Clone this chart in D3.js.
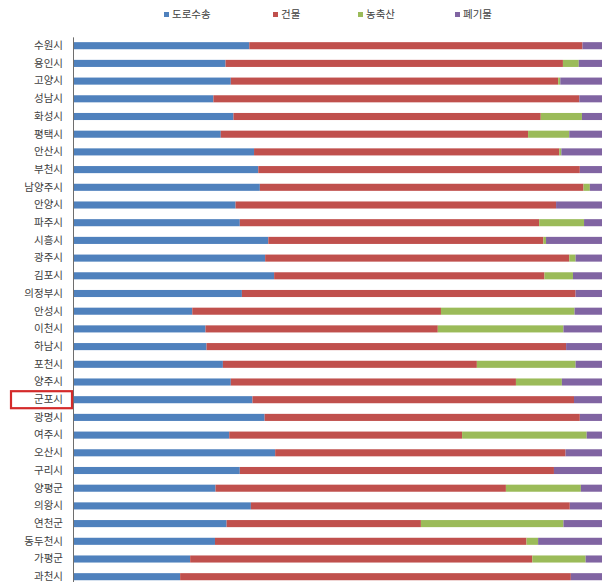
<!DOCTYPE html>
<html>
<head>
<meta charset="utf-8">
<script src="https://cdn.jsdelivr.net/npm/d3@7"></script>
<style>
  html, body { margin: 0; padding: 0; background: #fff; }
  svg { display: block; font-family: "Noto Sans CJK KR", "Noto Sans", sans-serif; }
</style>
</head>
<body>
<svg id="chart" width="608" height="582"></svg>
<script>
// 시군별 온실가스 배출 부문 구성비 (%)
const cities = ["수원시","용인시","고양시","성남시","화성시","평택시","안산시","부천시","남양주시","안양시",
  "파주시","시흥시","광주시","김포시","의정부시","안성시","이천시","하남시","포천시","양주시",
  "군포시","광명시","여주시","오산시","구리시","양평군","의왕시","연천군","동두천시","가평군","과천시"];
const seriesNames = ["도로수송","건물","농축산","폐기물"];
const road     = [33.2,28.7,29.7,26.4,30.2,27.8,34.1,34.9,35.2,30.6,31.4,36.8,36.2,37.9,31.8,22.4,24.9,25.1,28.2,29.7,33.8,36.1,29.4,38.1,31.4,26.8,33.5,28.9,26.7,22.0,20.1];
const building = [63.1,63.9,62.0,69.3,58.2,58.2,57.8,60.9,61.3,60.7,56.7,52.1,57.6,51.2,63.2,47.1,44.0,68.1,48.1,54.0,60.9,59.7,44.1,55.0,59.5,55.0,60.4,36.8,59.0,64.8,74.0];
const agri     = [0,3.0,0.4,0,7.8,7.8,0.4,0,1.2,0,8.5,0.5,1.2,5.4,0,25.3,23.8,0,18.7,8.7,0,0,23.6,0,0,14.2,0,27.0,2.2,10.1,0];
const waste    = [3.7,4.4,7.9,4.3,3.8,6.2,7.7,4.2,2.3,8.7,3.4,10.6,5.0,5.5,5.0,5.2,7.3,6.8,5.0,7.6,5.3,4.2,2.9,6.9,9.1,4.0,6.1,7.3,12.1,3.1,5.9];
const highlighted = "군포시";

const colors = ["#4f81bd","#c0504d","#9bbb59","#8064a2"];

const rows = cities.map((c, i) => ({
  city: c,
  "도로수송": road[i], "건물": building[i], "농축산": agri[i], "폐기물": waste[i]
}));

const svg = d3.select("#chart");
const plot = { left: 74, right: 602, top: 36.85, bottom: 36.85 + 17.7 * cities.length };

const x = d3.scaleLinear().domain([0, 1]).range([plot.left, plot.right]);
const y = d3.scaleBand().domain(cities).range([plot.top, plot.bottom])
  .paddingInner(0.6).paddingOuter(0.3);
const color = d3.scaleOrdinal().domain(seriesNames).range(colors);

const stacked = d3.stack().keys(seriesNames).offset(d3.stackOffsetExpand)(rows);

// stacked bars
svg.append("g").selectAll("g")
  .data(stacked)
  .join("g")
  .attr("fill", d => color(d.key))
  .selectAll("rect")
  .data(d => d)
  .join("rect")
  .attr("x", d => x(d[0]))
  .attr("y", d => y(d.data.city))
  .attr("width", d => Math.max(0, x(d[1]) - x(d[0])))
  .attr("height", y.bandwidth());

// category axis
const axis = svg.append("g")
  .attr("transform", `translate(${plot.left - 1},0)`)
  .call(d3.axisLeft(y).tickSize(0).tickPadding(10));
axis.select(".domain").attr("stroke", "#6e6e6e").attr("stroke-width", 1);
axis.selectAll("text")
  .attr("fill", "#404040")
  .style("font-size", "10.5px")
  .style("font-family", "'Noto Sans CJK KR', sans-serif");

// highlight frame around one label
const hb = { x0: 11, x1: 72 };
svg.append("rect")
  .attr("x", hb.x0)
  .attr("y", y(highlighted) + y.bandwidth() / 2 - 8.5)
  .attr("width", hb.x1 - hb.x0)
  .attr("height", 17)
  .attr("fill", "none")
  .attr("stroke", "#d42a2a")
  .attr("stroke-width", 2.2);

// legend
const legendX = [164, 273, 358, 455];
const legend = svg.append("g").selectAll("g")
  .data(seriesNames)
  .join("g")
  .attr("transform", (d, i) => `translate(${legendX[i]},14.5)`);
legend.append("rect")
  .attr("x", 0).attr("y", -2.5)
  .attr("width", 5).attr("height", 5)
  .attr("fill", d => color(d));
legend.append("text")
  .attr("x", 8).attr("y", 0)
  .attr("dy", "0.35em")
  .attr("fill", "#404040")
  .style("font-size", "10.5px")
  .text(d => d);
</script>
</body>
</html>
